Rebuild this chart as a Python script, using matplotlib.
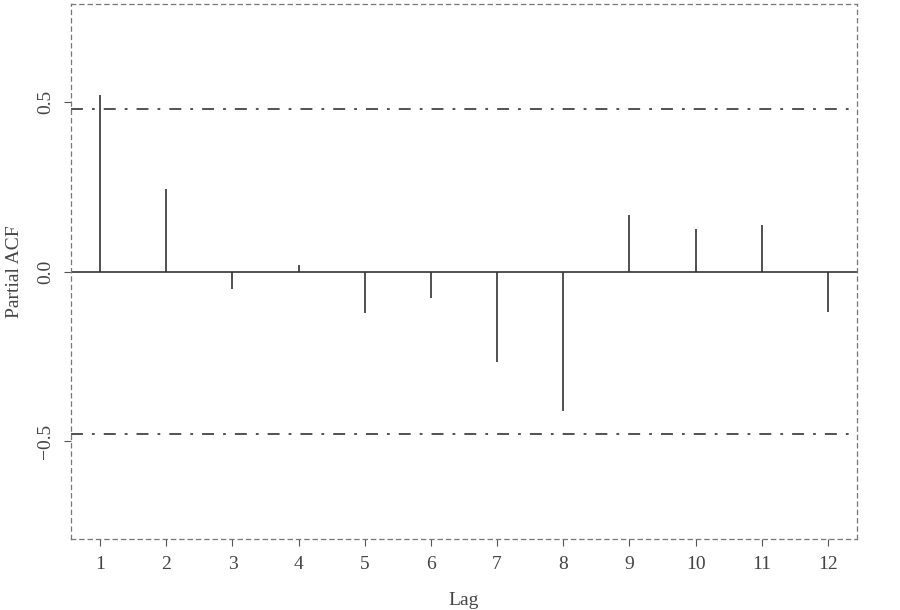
import matplotlib
matplotlib.use("Agg")
from matplotlib import pyplot as plt

plt.rcParams['font.family'] = ['Liberation Serif', 'DejaVu Serif']
plt.rcParams['lines.scale_dashes'] = False

lags = [1, 2, 3, 4, 5, 6, 7, 8, 9, 10, 11, 12]
pacf = [0.518, 0.244, -0.050, 0.018, -0.122, -0.078, -0.267, -0.410,
        0.165, 0.126, 0.138, -0.120]
ci = 0.477

fig = plt.figure(figsize=(9, 6.1), dpi=100)
ax = fig.add_axes([0.0789, 0.1164, 0.8733, 0.877])

ax.vlines(lags, 0, pacf, color='#333333', lw=1.2)
ax.axhline(0, color='#333333', lw=1.2)
dashdot = (0, (8.6, 6.5, 2.0, 6.5))
ax.axhline(ci, color='#444444', lw=1.3, linestyle=dashdot)
ax.axhline(-ci, color='#444444', lw=1.3, linestyle=dashdot)

ax.set_xlim(0.56, 12.44)
ax.set_ylim(-0.787, 0.787)
ax.set_xticks(lags)
ax.set_yticks([-0.5, 0.0, 0.5])
ax.set_yticklabels(['\u22120.5', '0.0', '0.5'], rotation=90, va='center')

for sp in ax.spines.values():
    sp.set_linestyle((0, (3, 3)))
    sp.set_color('#777777')
    sp.set_linewidth(0.9)

ax.tick_params(colors='#555555', labelcolor='#444444', labelsize=14,
               length=5, width=0.8, direction='out', pad=7)
ax.set_xlabel('Lag', fontsize=14, color='#444444', labelpad=14)
ax.set_ylabel('Partial ACF', fontsize=14, color='#444444', labelpad=10)

fig.savefig('out.png', dpi=100)
